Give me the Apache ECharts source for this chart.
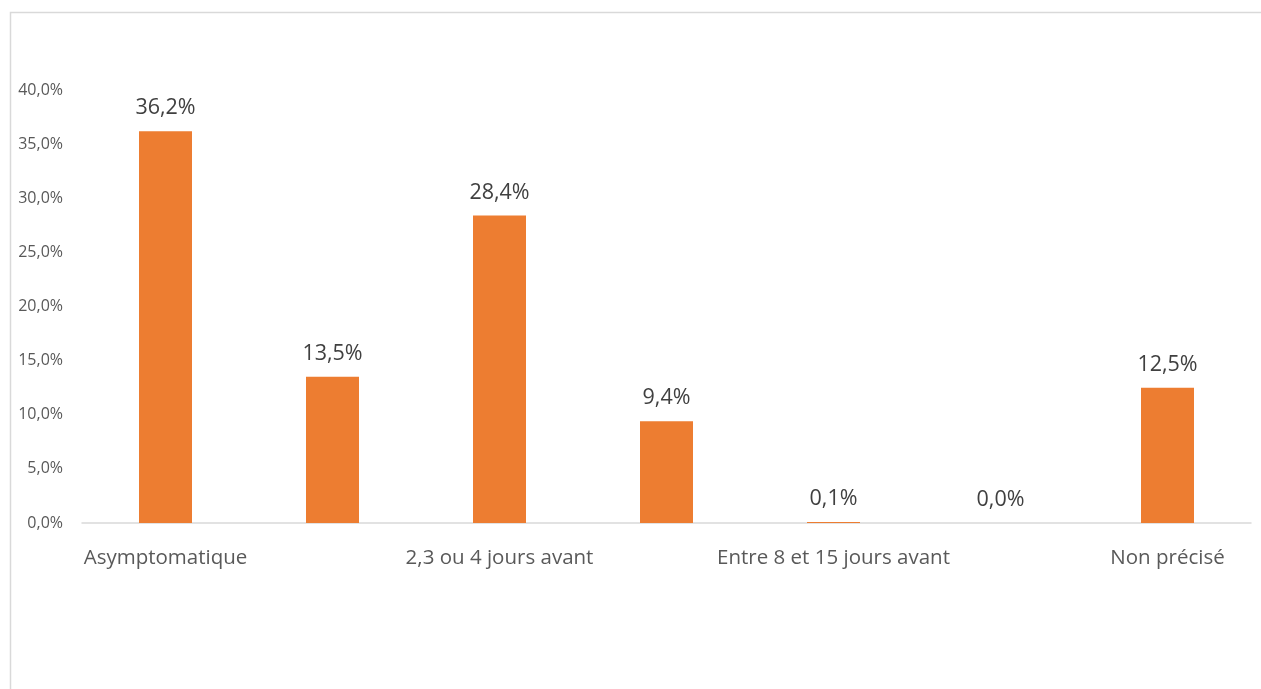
<!DOCTYPE html>
<html>
<head>
<meta charset="utf-8">
<script src="https://cdn.jsdelivr.net/npm/echarts@6/dist/echarts.min.js"></script>
<style>html,body{margin:0;padding:0;background:#fff;}#c{width:1261px;height:689px;}</style>
</head>
<body>
<div id="c"></div>
<script>
const categories = ["Asymptomatique", "Le jour même ou la veille", "2,3 ou 4 jours avant", "5,6 ou 7 jours avant", "Entre 8 et 15 jours avant", "Plus de 15 jours avant", "Non précisé"];
const values = [36.2, 13.5, 28.4, 9.4, 0.1, 0.0, 12.5];
const yTicks = [0, 5, 10, 15, 20, 25, 30, 35, 40];

const fmt = v => v.toFixed(1).replace('.', ',') + '%';
const chart = echarts.init(document.getElementById('c'));
chart.setOption({
  animation: false,
  textStyle: { fontFamily: 'Open Sans' },
  graphic: [{ type: 'rect', shape: { x: 10.5, y: 12.5, width: 1400, height: 800 }, style: { fill: 'none', stroke: '#d9d9d9', lineWidth: 1.5 }, silent: true }],
  grid: { left: 82, right: 10, top: 90, bottom: 166 },
  xAxis: {
    type: 'category', data: categories,
    axisLine: { lineStyle: { color: '#d9d9d9', width: 1.5 } },
    axisTick: { show: false },
    axisLabel: { interval: 1, color: '#595959', fontSize: 20.5, margin: 25 }
  },
  yAxis: {
    type: 'value', min: yTicks[0], max: yTicks[yTicks.length - 1], interval: 5,
    axisLine: { show: false }, axisTick: { show: false }, splitLine: { show: false },
    axisLabel: { color: '#595959', fontSize: 16, margin: 19, formatter: v => fmt(v) }
  },
  series: [{
    type: 'bar', data: values, barWidth: 53,
    itemStyle: { color: '#ed7d31' },
    label: { show: true, position: 'top', distance: 12, color: '#404040', fontSize: 21.5, formatter: p => fmt(p.value) }
  }]
});
</script>
</body>
</html>
